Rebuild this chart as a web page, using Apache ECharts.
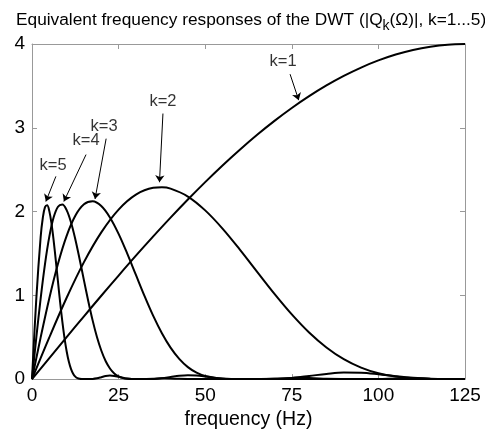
<!DOCTYPE html>
<html>
<head>
<meta charset="utf-8">
<script src="https://cdn.jsdelivr.net/npm/echarts@6/dist/echarts.min.js"></script>
<style>html,body{margin:0;padding:0;background:#fff}#c{width:485px;height:435px}</style>
</head>
<body>
<div id="c"></div>
<script>
// frequency (Hz) / magnitude arrays
const k1F = [0,5,10,15,20,25,30,35,40,45,50,55,60,65,70,75,80,85,90,95,100,105,110,115,120,125];
const k1V = [0,0.251,0.501,0.750,0.995,1.236,1.473,1.703,1.927,2.143,2.351,2.550,2.738,2.916,3.082,3.236,3.377,3.505,3.619,3.719,3.804,3.874,3.929,3.968,3.992,4.000];

const k2F = [0,5,10,15,20,25,30,35,37.5,40,45,50,55,60,65,70,75,80,85,90,95,100,105,110,115,120,125];
const k2V = [0,0.498,0.971,1.396,1.751,2.023,2.201,2.283,2.289,2.273,2.179,2.014,1.797,1.546,1.281,1.018,0.773,0.557,0.378,0.238,0.137,0.069,0.030,0.010,0.002,0.000,0];

const k3F = [0,2.5,5,7.5,10,12.5,15,17.5,20,22.5,25,27.5,30,32.5,35,37.5,40,42.5,45,47.5,50,55,60,62.5,65,70,75,80,85,90,95,100,105,110,115,120,125];
const k3V = [0,0.498,0.966,1.377,1.710,1.949,2.086,2.122,2.065,1.929,1.733,1.497,1.243,0.990,0.754,0.547,0.375,0.241,0.143,0.077,0.037,0.004,0,0,0,0.003,0.014,0.037,0.062,0.079,0.077,0.059,0.035,0.015,0.003,0,0];

const k4F = [0,1.25,2.5,3.75,5,6.25,7.5,8.75,10,11.25,12.5,13.75,15,16.25,17.5,18.75,20,21.25,22.5,23.75,25,26.25,27.5,30,31.25,35,37.5,40,42.5,45,47.5,50,52.5,55,57.5,62.5,70,75,80,85,93.75,100,105,110,115,125];
const k4V = [0,0.498,0.964,1.373,1.700,1.931,2.058,2.084,2.017,1.872,1.670,1.431,1.178,0.930,0.701,0.502,0.341,0.216,0.127,0.068,0.032,0.012,0.004,0,0,0.002,0.010,0.025,0.040,0.047,0.044,0.032,0.017,0.007,0.002,0,0.004,0.012,0.012,0.004,0,0.001,0.006,0.008,0.004,0];

const k5F = [0,1.25,2.5,3.125,3.75,4.375,5,5.625,6.25,6.875,7.5,8.125,8.75,9.375,10,10.625,11.25,11.875,12.5,13.125,13.75,15,15.625,17.5,18.75,20,21.25,22.5,23.75,25,26.25,27.5,28.75,31.25,35,37.5,40,42.5,46.875,62.5,125];
const k5V = [0,0.964,1.697,1.926,2.052,2.075,2.005,1.858,1.654,1.415,1.163,0.915,0.688,0.492,0.333,0.210,0.123,0.065,0.030,0.012,0.004,0,0,0.002,0.009,0.022,0.036,0.042,0.038,0.027,0.015,0.006,0.001,0,0.003,0.009,0.008,0.003,0,0,0];

const xTicks = [0,25,50,75,100,125];
const yTicks = [0,1,2,3,4];

// annotations: label text, label position, arrow tail, arrow tip (data units)
const annText = ['k=1','k=2','k=3','k=4','k=5'];
const annLabel = [[72.5,3.79],[37.8,3.32],[20.8,3.01],[15.6,2.85],[6.1,2.55]];
const annTail = [[74.5,3.64],[37.8,3.17],[21.4,2.87],[15.6,2.68],[6.9,2.42]];
const annTip = [[77.0,3.33],[36.8,2.35],[18.2,2.15],[9.2,2.12],[4.0,2.12]];

const pairs = (f, v) => f.map((x, i) => [x, v[i]]);
const curves = [[k1F,k1V],[k2F,k2V],[k3F,k3V],[k4F,k4V],[k5F,k5V]];

const FONT = 'Liberation Sans, Arial, Helvetica, sans-serif';
const axisGray = '#999';

const chart = echarts.init(document.getElementById('c'), null, {renderer: 'canvas'});

const series = curves.map((c, i) => ({
  type: 'line',
  name: annText[i],
  data: pairs(c[0], c[1]),
  smooth: 0.35,
  showSymbol: false,
  symbol: 'none',
  clip: true,
  lineStyle: {color: '#000', width: 2},
  silent: true
}));

series.push({
  type: 'scatter',
  data: annLabel.map((p, i) => ({value: p, name: annText[i]})),
  symbolSize: 1,
  itemStyle: {color: 'rgba(0,0,0,0)'},
  silent: true,
  label: {
    show: true,
    position: 'inside',
    formatter: p => p.name,
    color: '#000',
    fontFamily: FONT,
    fontSize: 16.5
  },
  markLine: {
    silent: true,
    symbol: ['none', 'arrow'],
    symbolSize: 7,
    label: {show: false},
    lineStyle: {color: '#000', width: 1, type: 'solid'},
    emphasis: {disabled: true},
    data: annTail.map((t, i) => [{coord: t}, {coord: annTip[i]}])
  }
});

const commonX = {
  type: 'value', min: xTicks[0], max: xTicks[xTicks.length - 1], interval: 25,
  splitLine: {show: false},
  axisLine: {show: true, onZero: false, lineStyle: {color: axisGray, width: 1}},
  axisTick: {show: true, inside: true, length: 5, lineStyle: {color: axisGray}}
};
const commonY = {
  type: 'value', min: yTicks[0], max: yTicks[yTicks.length - 1], interval: 1,
  splitLine: {show: false},
  axisLine: {show: true, onZero: false, lineStyle: {color: axisGray, width: 1}},
  axisTick: {show: true, inside: true, length: 5, lineStyle: {color: axisGray}}
};

chart.setOption({
  animation: false,
  backgroundColor: '#fff',
  title: {
    left: 11,
    top: 3,
    text: '{a|Equivalent frequency responses of the DWT (|Q}{s|k}{a|(Ω)|, k=1...5)}',
    textStyle: {
      fontWeight: 'normal',
      rich: {
        a: {fontFamily: FONT, fontSize: 17.3, fontWeight: 'normal', color: '#000', lineHeight: 25},
        s: {fontFamily: FONT, fontSize: 14, fontWeight: 'normal', color: '#000', lineHeight: 14, padding: [11, 0, 0, 0]}
      }
    }
  },
  grid: {left: 32, right: 20, top: 44, bottom: 51, containLabel: false},
  xAxis: [
    Object.assign({}, commonX, {
      position: 'bottom',
      name: 'frequency (Hz)',
      nameLocation: 'middle',
      nameGap: 26,
      nameTextStyle: {fontFamily: FONT, fontSize: 19.5, color: '#000'},
      axisLabel: {show: true, margin: 7, fontFamily: FONT, fontSize: 19, color: '#000',
        formatter: v => String(v)}
    }),
    Object.assign({}, commonX, {position: 'top', axisLabel: {show: false}})
  ],
  yAxis: [
    Object.assign({}, commonY, {
      position: 'left',
      axisLabel: {show: true, margin: 7, fontFamily: FONT, fontSize: 19, color: '#000',
        formatter: v => String(v)}
    }),
    Object.assign({}, commonY, {position: 'right', axisLabel: {show: false}})
  ],
  series: series
});
</script>
</body>
</html>
